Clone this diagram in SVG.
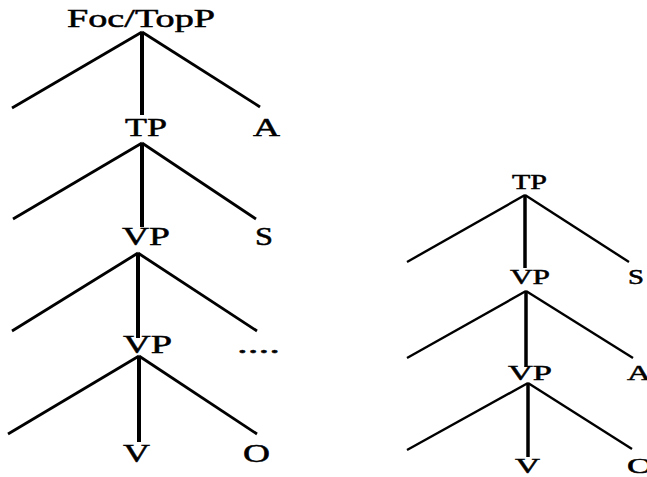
<svg xmlns="http://www.w3.org/2000/svg" width="647" height="477" viewBox="0 0 647 477">
<style>
.t{font-family:"Liberation Serif","Times New Roman",serif;fill:#000;stroke:#000;stroke-width:0.5}
.L{font-size:26px}
.R{font-size:21px}
.d{stroke:#000;stroke-width:2.8;fill:none;stroke-linecap:butt}
.v{stroke:#000;stroke-width:4;fill:none}
.dr{stroke:#000;stroke-width:2.4;fill:none}
.vr{stroke:#000;stroke-width:3.5;fill:none}
</style>
<rect width="647" height="477" fill="#fff"/>
<g id="connectors">
<line class="d" x1="142" y1="32" x2="12" y2="108"/>
<line class="v" x1="142" y1="32" x2="142" y2="115"/>
<line class="d" x1="142" y1="32" x2="260" y2="107"/>
<line class="d" x1="142" y1="143" x2="13" y2="219"/>
<line class="v" x1="142" y1="143" x2="142" y2="227"/>
<line class="d" x1="142" y1="143" x2="256" y2="219"/>
<line class="d" x1="138" y1="253" x2="12" y2="331"/>
<line class="v" x1="138" y1="253" x2="138" y2="338"/>
<line class="d" x1="138" y1="253" x2="257" y2="331"/>
<line class="d" x1="139" y1="356" x2="8" y2="434"/>
<line class="v" x1="139" y1="356" x2="139" y2="442"/>
<line class="d" x1="139" y1="356" x2="257" y2="434"/>
<line class="dr" x1="525" y1="195" x2="407" y2="262"/>
<line class="vr" x1="525" y1="195" x2="525" y2="268"/>
<line class="dr" x1="525" y1="195" x2="629" y2="262"/>
<line class="dr" x1="526" y1="291" x2="407" y2="358"/>
<line class="vr" x1="526" y1="291" x2="526" y2="367"/>
<line class="dr" x1="526" y1="291" x2="633" y2="358"/>
<line class="dr" x1="528" y1="383" x2="407" y2="450"/>
<line class="vr" x1="528" y1="383" x2="528" y2="457"/>
<line class="dr" x1="528" y1="383" x2="632" y2="449"/>
</g>
<g id="n-foctopp"><text class="t L" x="67" y="27" textLength="148" lengthAdjust="spacingAndGlyphs">Foc/TopP</text></g>
<g id="n-tp"><text class="t L" x="125" y="136" textLength="42" lengthAdjust="spacingAndGlyphs">TP</text></g>
<g id="n-a"><text class="t L" x="253" y="136" textLength="27" lengthAdjust="spacingAndGlyphs">A</text></g>
<g id="n-vp1"><text class="t L" x="122" y="245" textLength="48" lengthAdjust="spacingAndGlyphs">VP</text></g>
<g id="n-s"><text class="t L" x="255" y="245" textLength="18" lengthAdjust="spacingAndGlyphs">S</text></g>
<g id="n-vp2"><text class="t L" x="123" y="353" textLength="49" lengthAdjust="spacingAndGlyphs">VP</text></g>
<g id="n-dots"><text class="t L" x="237" y="353" textLength="43" lengthAdjust="spacingAndGlyphs">....</text></g>
<g id="n-v"><text class="t L" x="123" y="462" textLength="27" lengthAdjust="spacingAndGlyphs">V</text></g>
<g id="n-o"><text class="t L" x="243" y="462" textLength="27" lengthAdjust="spacingAndGlyphs">O</text></g>
<g id="r-tp"><text class="t R" x="512" y="189" textLength="35" lengthAdjust="spacingAndGlyphs">TP</text></g>
<g id="r-vp1"><text class="t R" x="510" y="284" textLength="40" lengthAdjust="spacingAndGlyphs">VP</text></g>
<g id="r-s"><text class="t R" x="628" y="284" textLength="16" lengthAdjust="spacingAndGlyphs">S</text></g>
<g id="r-vp2"><text class="t R" x="508" y="380" textLength="44" lengthAdjust="spacingAndGlyphs">VP</text></g>
<g id="r-a"><text class="t R" x="627" y="380" textLength="24" lengthAdjust="spacingAndGlyphs">A</text></g>
<g id="r-v"><text class="t R" x="515" y="473" textLength="25" lengthAdjust="spacingAndGlyphs">V</text></g>
<g id="r-o"><text class="t R" x="627" y="473" textLength="26" lengthAdjust="spacingAndGlyphs">O</text></g>
</svg>
